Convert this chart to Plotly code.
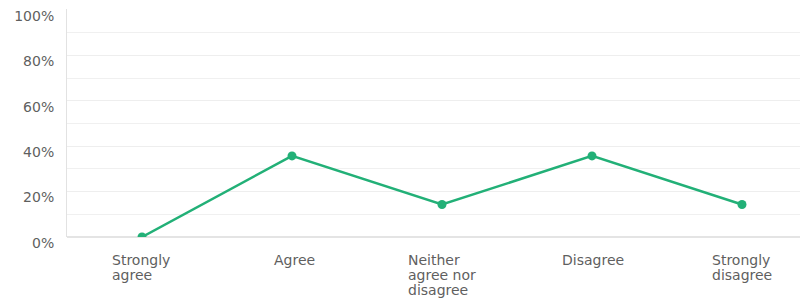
import plotly.graph_objects as go

categories = ["Strongly agree", "Agree", "Neither agree nor disagree", "Disagree", "Strongly disagree"]
label_lines = [["Strongly", "agree"], ["Agree"], ["Neither", "agree nor", "disagree"], ["Disagree"], ["Strongly", "disagree"]]
values = [0.0, 35.71, 14.29, 35.71, 14.29]
y_ticks = [0, 20, 40, 60, 80, 100]
y_tick_text = ["0%", "20%", "40%", "60%", "80%", "100%"]

GREEN = "#22b077"
FONT = "DejaVu Sans"
TXT = "#5f5f5f"
FS = 14
CHAR_W = 7.9      # approx. glyph width for block centring
LINE_H = 15       # line spacing of the category labels

fig = go.Figure()
fig.add_trace(go.Scatter(
    x=list(range(len(categories))), y=values, mode="lines+markers",
    line=dict(color=GREEN, width=2.5),
    marker=dict(color=GREEN, size=9),
    hoverinfo="skip", showlegend=False,
))

for i, lines in enumerate(label_lines):
    half = max(len(s) for s in lines) * CHAR_W / 2
    for j, s in enumerate(lines):
        fig.add_annotation(
            x=i, xref="x", y=0, yref="paper", yshift=-13 - j * LINE_H,
            xanchor="left", xshift=-half, yanchor="top", align="left",
            text=s, showarrow=False,
            font=dict(family=FONT, size=FS, color=TXT),
        )

fig.update_layout(
    width=800, height=292,
    margin=dict(l=59, r=0, t=1, b=63),
    paper_bgcolor="white", plot_bgcolor="white",
    xaxis=dict(range=[-0.5, 4.44], showticklabels=False, showgrid=False,
               zeroline=False, showline=False, fixedrange=True, automargin=False),
    yaxis=dict(range=[0, 100.4], tickvals=y_ticks, ticktext=y_tick_text,
               showgrid=True, gridcolor="#eeeeee", gridwidth=1,
               minor=dict(dtick=10, showgrid=True, gridcolor="#f0f0f0"),
               zeroline=True, zerolinecolor="#e4e4e4", zerolinewidth=2,
               showline=True, linecolor="#e2e2e2", linewidth=1,
               ticklabelshift=6, ticklabelstandoff=9, ticklabeloverflow="allow",
               tickfont=dict(family=FONT, size=FS, color=TXT),
               fixedrange=True, automargin=False),
)

fig.write_html("out.html")
